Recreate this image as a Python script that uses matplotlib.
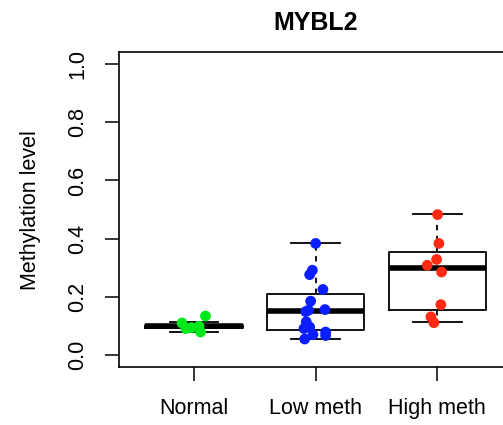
import matplotlib
matplotlib.use("Agg")
import matplotlib.pyplot as plt
import numpy as np

plt.rcParams['font.family'] = ['Liberation Sans', 'DejaVu Sans']

groups = ["Normal", "Low meth", "High meth"]
colors = ["#00E81A", "#0A1EFF", "#FF2A14"]

# box statistics (Tukey hinges, whiskers at 1.5 IQR)
whislo = [0.080, 0.056, 0.113]
q1 = [0.095, 0.086, 0.155]
med = [0.100, 0.152, 0.298]
q3 = [0.104, 0.209, 0.356]
whishi = [0.113, 0.384, 0.484]

# samples per group, with the horizontal jitter used for the strip
normal_y = [0.111, 0.092, 0.095, 0.100, 0.080, 0.135]
normal_dx = [-0.099, -0.068, -0.021, 0.041, 0.053, 0.094]
low_y = [0.384, 0.292, 0.277, 0.226, 0.186, 0.157, 0.150, 0.155, 0.115,
         0.092, 0.097, 0.071, 0.080, 0.068, 0.056]
low_dx = [0.000, -0.027, -0.049, 0.060, -0.041, 0.077, -0.082, -0.058, -0.077,
          -0.096, -0.049, -0.022, 0.082, 0.082, -0.090]
high_y = [0.483, 0.384, 0.329, 0.309, 0.286, 0.174, 0.132, 0.112]
high_dx = [0.003, 0.014, -0.005, -0.082, 0.036, 0.030, -0.052, -0.027]

samples = [(normal_dx, normal_y), (low_dx, low_y), (high_dx, high_y)]

fig = plt.figure(figsize=(5.03, 4.25), dpi=100)
ax = fig.add_axes([0.236, 0.1365, 0.783, 0.7405])

stats = []
for i in range(3):
    stats.append(dict(med=med[i], q1=q1[i], q3=q3[i],
                      whislo=whislo[i], whishi=whishi[i], label=groups[i]))

ax.bxp(stats, positions=[1, 2, 3], widths=0.8, capwidths=0.4,
       showfliers=False, patch_artist=False,
       boxprops=dict(color="black", linewidth=1.3),
       medianprops=dict(color="black", linewidth=4.0, solid_capstyle="butt"),
       whiskerprops=dict(color="black", linewidth=1.3, linestyle=(0, (3, 3))),
       capprops=dict(color="black", linewidth=1.3))

for i, (dx, y) in enumerate(samples):
    x = np.array(dx) + i + 1
    ax.scatter(x, y, s=60, color=colors[i], edgecolors="none", zorder=5)

ax.set_xlim(0.38, 3.62)
ax.set_ylim(-0.04, 1.04)
ax.set_xticks([1, 2, 3])
ax.set_xticklabels(groups, fontsize=15.5)
ax.set_yticks([0.0, 0.2, 0.4, 0.6, 0.8, 1.0])
ax.set_yticklabels(["0.0", "0.2", "0.4", "0.6", "0.8", "1.0"], fontsize=15.5,
                   rotation=90, va="center")
ax.tick_params(axis="both", length=10, width=1.1, color="black")
ax.tick_params(axis="y", pad=12)
ax.tick_params(axis="x", pad=12)
for sp in ax.spines.values():
    sp.set_linewidth(1.2)

ax.set_ylabel("Methylation level", fontsize=15.5, labelpad=19)
ax.set_title("MYBL2", fontsize=18, fontweight="bold", pad=16)

fig.savefig("out.png", dpi=100)
